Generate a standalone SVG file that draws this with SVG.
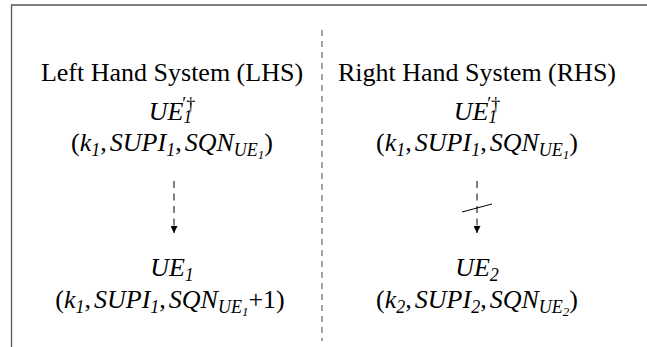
<svg xmlns="http://www.w3.org/2000/svg" width="647" height="347" viewBox="0 0 647 347">
  <style>
    .frame { fill: none; stroke: #555; stroke-width: 1.3; }
    .divider { fill: none; stroke: #666; stroke-width: 1.2; stroke-dasharray: 6 5; }
    .edge { fill: none; stroke: #000; stroke-width: 1; stroke-dasharray: 7 5.5; }
    text { font-family: 'Liberation Serif', 'Times New Roman', Times, 'DejaVu Serif', serif; font-size: 26px; fill: #000; }
    .i { font-style: italic; }
    .sub { font-style: italic; font-size: 18px; }
    .sub2 { font-style: italic; font-size: 13px; }
    .up { font-size: 18px; }
  </style>
  <defs>
    <marker id="head" viewBox="0 0 7 7" refX="7" refY="3.5" markerWidth="7" markerHeight="7" markerUnits="userSpaceOnUse" orient="auto">
      <path d="M0,0 L7,3.5 L0,7 Z" fill="#000"/>
    </marker>
  </defs>

  <rect width="647" height="347" fill="#fff"/>

  <!-- outer frame (open on the right and bottom) -->
  <path class="frame" d="M11.5,347 V5 H647"/>

  <!-- column divider -->
  <line class="divider" x1="322" y1="30" x2="322" y2="341"/>

  <!-- column headings -->
  <text x="172" y="81" text-anchor="middle">Left Hand System (LHS)</text>
  <text x="477" y="81" text-anchor="middle">Right Hand System (RHS)</text>

  <!-- left: source state -->
  <g id="lhs-src">
    <text x="172" y="120" text-anchor="middle"><tspan class="i">UE</tspan><tspan class="up" dx="-1" dy="-10">′†</tspan><tspan class="sub" dx="-12" dy="13">1</tspan></text>
    <text x="172" y="151" text-anchor="middle">(<tspan class="i">k</tspan><tspan class="sub" dy="5">1</tspan><tspan dy="-5">,</tspan><tspan class="i" dx="3">SUPI</tspan><tspan class="sub" dy="5">1</tspan><tspan dy="-5">,</tspan><tspan class="i" dx="3">SQN</tspan><tspan class="sub" dy="5">UE</tspan><tspan class="sub2" dy="3">1</tspan><tspan dy="-8">)</tspan></text>
  </g>

  <!-- left: target state -->
  <g id="lhs-dst">
    <text x="172" y="276" text-anchor="middle"><tspan class="i">UE</tspan><tspan class="sub" dy="5">1</tspan></text>
    <text x="170" y="308" text-anchor="middle">(<tspan class="i">k</tspan><tspan class="sub" dy="5">1</tspan><tspan dy="-5">,</tspan><tspan class="i" dx="3">SUPI</tspan><tspan class="sub" dy="5">1</tspan><tspan dy="-5">,</tspan><tspan class="i" dx="3">SQN</tspan><tspan class="sub" dy="5">UE</tspan><tspan class="sub2" dy="3">1</tspan><tspan dy="-8">+1)</tspan></text>
  </g>

  <!-- right: source state -->
  <g id="rhs-src">
    <text x="477" y="120" text-anchor="middle"><tspan class="i">UE</tspan><tspan class="up" dx="-1" dy="-10">′†</tspan><tspan class="sub" dx="-12" dy="13">1</tspan></text>
    <text x="477" y="151" text-anchor="middle">(<tspan class="i">k</tspan><tspan class="sub" dy="5">1</tspan><tspan dy="-5">,</tspan><tspan class="i" dx="3">SUPI</tspan><tspan class="sub" dy="5">1</tspan><tspan dy="-5">,</tspan><tspan class="i" dx="3">SQN</tspan><tspan class="sub" dy="5">UE</tspan><tspan class="sub2" dy="3">1</tspan><tspan dy="-8">)</tspan></text>
  </g>

  <!-- right: target state -->
  <g id="rhs-dst">
    <text x="477" y="276" text-anchor="middle"><tspan class="i">UE</tspan><tspan class="sub" dy="5">2</tspan></text>
    <text x="477" y="308" text-anchor="middle">(<tspan class="i">k</tspan><tspan class="sub" dy="5">2</tspan><tspan dy="-5">,</tspan><tspan class="i" dx="3">SUPI</tspan><tspan class="sub" dy="5">2</tspan><tspan dy="-5">,</tspan><tspan class="i" dx="3">SQN</tspan><tspan class="sub" dy="5">UE</tspan><tspan class="sub2" dy="3">2</tspan><tspan dy="-8">)</tspan></text>
  </g>

  <!-- connectors -->
  <g id="connectors">
    <line class="edge" x1="174" y1="181" x2="174" y2="233" marker-end="url(#head)"/>
    <line class="edge" x1="477" y1="181" x2="477" y2="233" marker-end="url(#head)"/>
    <!-- stroke-through: transition not possible -->
    <line x1="462" y1="212" x2="492" y2="204" stroke="#000" stroke-width="1"/>
  </g>
</svg>
